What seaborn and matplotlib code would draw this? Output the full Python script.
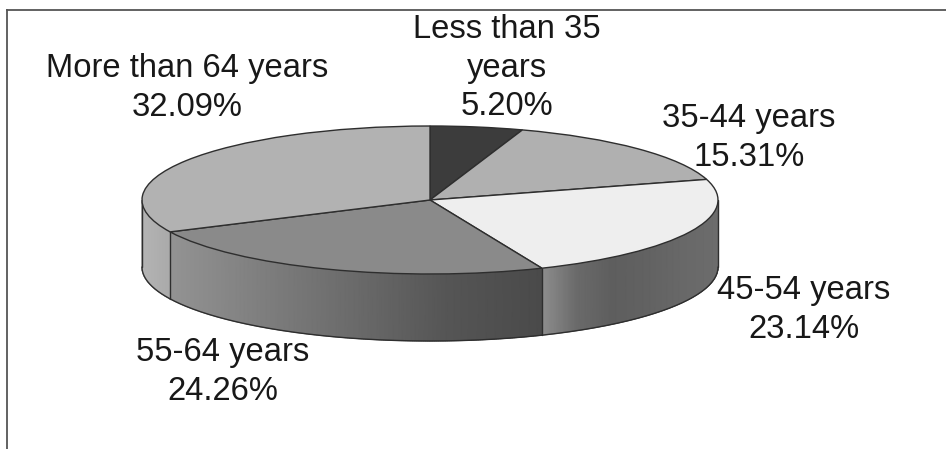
import numpy as np
import matplotlib
matplotlib.use("Agg")
import matplotlib.pyplot as plt
import seaborn as sns

age_groups = ["Less than 35", "35-44 years", "45-54 years", "55-64 years", "More than 64 years"]
shares = [5.20, 15.31, 23.14, 24.26, 32.09]
top_colors = ["#3c3c3c", "#b0b0b0", "#eeeeee", "#8a8a8a", "#b2b2b2"]

# Shades of the rim, left to right, for slices that reach the front
rim_shades = {
    "45-54 years": ["#8e8e8e", "#6a6a6a", "#5e5e5e", "#626262", "#686868", "#6c6c6c"],
    "55-64 years": ["#939393", "#7e7e7e", "#6a6a6a", "#555555", "#4a4a4a"],
    "More than 64 years": ["#b4b4b4", "#aaaaaa"],
}
label_text = [
    "Less than 35\nyears\n5.20%",
    "35-44 years\n15.31%",
    "45-54 years\n23.14%",
    "55-64 years\n24.26%",
    "More than 64 years\n32.09%",
]
label_xy = [(507, 68), (749, 138), (804, 310), (223, 372), (187, 88)]

W, H = 946, 449
CX, CY, RX, RY = 430.0, 200.0, 288.0, 74.0
FRAME_L, FRAME_T = 6.5, 10.0
DEPTH = 67.0 / RY
EDGE = "#2e2e2e"

sns.set_theme(style="white")
plt.rcParams["font.family"] = ["Liberation Sans", "DejaVu Sans"]

fig = plt.figure(figsize=(W / 100, H / 100), dpi=100, facecolor="white")
ax = fig.add_axes([FRAME_L / W, 0, 1 - FRAME_L / W, 1 - FRAME_T / H])

wedges, _ = ax.pie(
    shares, startangle=90, counterclock=False, colors=top_colors, radius=1,
    center=(0, 0), wedgeprops=dict(edgecolor=EDGE, linewidth=1.0, zorder=5),
)
ax.set_aspect("auto")

# Rim of the disc: a smooth shaded band along each slice's arc in the lower half
edges = np.concatenate([[0], np.cumsum(shares)]) / sum(shares) * 360.0
for name, start, stop in zip(age_groups, edges[:-1], edges[1:]):
    lo, hi = max(start, 90.0), min(stop, 270.0)
    if lo >= hi or name not in rim_shades:
        continue
    a = np.radians(np.linspace(lo, hi, 240))
    x, y = np.sin(a), np.cos(a)
    order = np.argsort(x)
    xs, ys = x[order], y[order]
    cmap = sns.blend_palette(rim_shades[name], as_cmap=True)
    mesh_x = np.vstack([xs, xs])
    mesh_y = np.vstack([ys, ys - DEPTH])
    shade = (mesh_x - xs[0]) / (xs[-1] - xs[0])
    ax.pcolormesh(mesh_x, mesh_y, shade, cmap=cmap, vmin=0, vmax=1,
                  shading="gouraud", zorder=2)
    ax.plot(xs, ys - DEPTH, color=EDGE, linewidth=1.0, zorder=3)

# Vertical edges at the silhouette and at visible slice boundaries
for deg in [90.0, 270.0] + [e for e in edges[1:-1] if 90.0 < e < 270.0]:
    r = np.radians(deg)
    sx, sy = np.sin(r), np.cos(r)
    ax.plot([sx, sx], [sy, sy - DEPTH], color=EDGE, linewidth=1.0, zorder=3)

ax.set_xlim((FRAME_L - CX) / RX, (W - CX) / RX)
ax.set_ylim((CY - H) / RY, (CY - FRAME_T) / RY)
ax.set_frame_on(True)
for side, spine in ax.spines.items():
    spine.set_visible(side in ("left", "top"))
    spine.set_color("#555555")
    spine.set_linewidth(1.3)

for text, (px, py) in zip(label_text, label_xy):
    fig.text(px / W, 1 - py / H, text, ha="center", va="center", ma="center",
             fontsize=23.6, color="#181818", linespacing=1.33)

fig.savefig("out.png", dpi=100, facecolor="white")
